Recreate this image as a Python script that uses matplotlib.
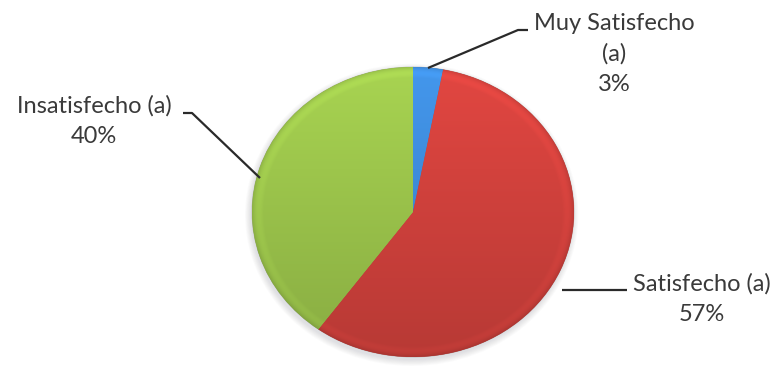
import numpy as np
import matplotlib
matplotlib.use("Agg")
import matplotlib.pyplot as plt
from matplotlib.patches import Ellipse
from matplotlib.colors import to_rgb

plt.rcParams["font.family"] = ["Lato", "DejaVu Sans"]

# datos
etiquetas = ["Muy Satisfecho\n(a)", "Satisfecho (a)", "Insatisfecho (a)"]
valores = [3, 57, 40]
colores = ["#3f8ddd", "#d3423d", "#9dc64c"]

W, H = 781, 387
fig = plt.figure(figsize=(W / 100, H / 100), dpi=100)

# caja del pastel (en pixeles de la figura)
px0, px1, py0, py1 = 252, 574, 67, 357
ax = fig.add_axes([px0 / W, 1 - py1 / H, (px1 - px0) / W, (py1 - py0) / H])

# sombra difusa debajo del pastel
for i in range(8):
    ax.add_patch(Ellipse((-0.008, -0.02), 2.0 + 0.01 * i, 2.0 + 0.012 * i,
                         facecolor="#5a6470", edgecolor="none", alpha=0.025,
                         clip_on=False, zorder=0))

wedges, _ = ax.pie(valores, colors=colores, startangle=90, counterclock=False,
                   radius=1.0, wedgeprops=dict(linewidth=0.6, edgecolor="#00000030"))
ax.set_aspect("auto")
ax.set_xlim(-1, 1)
ax.set_ylim(-1, 1)
ax.axis("off")

# sombreado: degradado vertical y bisel suave en el borde
n = 400
xx, yy = np.meshgrid(np.linspace(-1, 1, n), np.linspace(1, -1, n))
rr = np.sqrt(xx ** 2 + yy ** 2)
vert = 1.07 - 0.2 * (1 - yy) / 2
t = np.clip((rr - 0.93) / 0.07, 0, 1)
bevel = 1 + 0.05 * np.sin(t * np.pi) - 0.08 * t ** 3
shade = vert * bevel
for w, c in zip(wedges, colores):
    base = np.array(to_rgb(c))
    img = np.clip(base[None, None, :] * shade[:, :, None], 0, 1)
    im = ax.imshow(img, extent=(-1, 1, -1, 1), zorder=w.get_zorder() + 0.5,
                   interpolation="bilinear", aspect="auto")
    im.set_clip_path(w)

# capa de texto y lineas guia en coordenadas de pixel
ov = fig.add_axes([0, 0, 1, 1])
ov.set_xlim(0, W)
ov.set_ylim(H, 0)
ov.axis("off")

total = sum(valores)
pos_texto = [(614, 54), (702, 299), (94, 121)]
guias = [
    [(428, 68), (518, 30), (528, 30)],
    [(562, 290), (627, 290)],
    [(183, 113), (192, 113), (260, 178)],
]
for lab, v, (tx, ty), g in zip(etiquetas, valores, pos_texto, guias):
    pct = round(v / total * 100)
    ov.text(tx, ty, f"{lab}\n{pct}%", ha="center", va="center", fontsize=17,
            color="#3a3a3a", linespacing=1.55)
    gx, gy = zip(*g)
    ov.plot(gx, gy, color="#2a2a2a", lw=1.6, solid_capstyle="butt")

fig.savefig("out.png", dpi=100)
